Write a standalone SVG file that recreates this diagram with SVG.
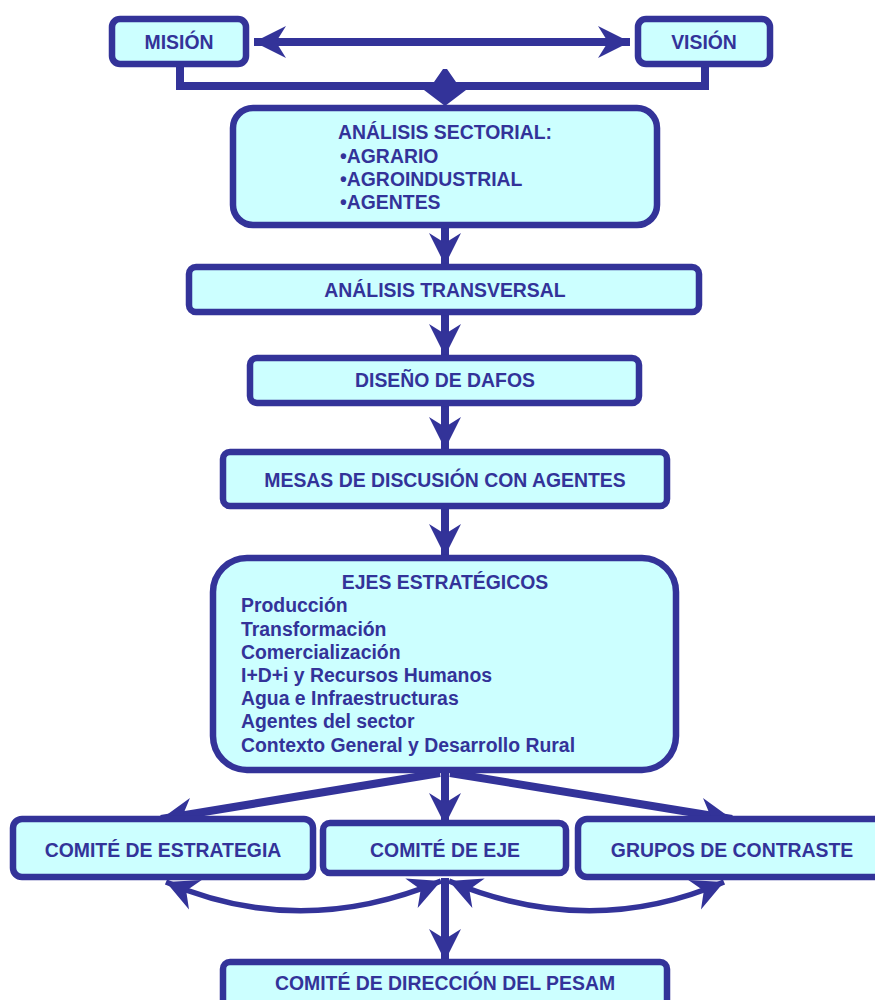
<svg xmlns="http://www.w3.org/2000/svg" width="875" height="1000" viewBox="0 0 875 1000">
<style>
.box{fill:#CCFFFF;stroke:#333399;stroke-width:6.5}
.t{font-family:Arial,"Liberation Sans",sans-serif;font-weight:bold;font-size:19.4px;fill:#333399}
.c{text-anchor:middle}
.ln{fill:none;stroke:#333399;stroke-width:8}
.thin{fill:none;stroke:#333399;stroke-width:5.5}
</style>
<defs>
<marker id="ah" markerUnits="userSpaceOnUse" markerWidth="44" markerHeight="44" viewBox="-34 -22 44 44" refX="0" refY="0" orient="auto-start-reverse">
<path d="M0,0 L-32,-16 L-22,0 L-32,16 Z" fill="#333399"/>
</marker>
</defs>
<rect width="875" height="1000" fill="#fff"/>
<g id="connectors">
<line class="ln" stroke-width="7" x1="254" y1="42" x2="630" y2="42" marker-start="url(#ah)" marker-end="url(#ah)"/>
<polyline class="ln" points="180,65 180,86 705,86 705,65"/>
<polygon points="443,69 447,69 456,82 466,90 445,106 424,90 434,82" fill="#333399"/>
<line class="ln" x1="445" y1="226" x2="445" y2="265" marker-end="url(#ah)"/>
<line class="ln" x1="445" y1="314" x2="445" y2="356" marker-end="url(#ah)"/>
<line class="ln" x1="445" y1="405" x2="445" y2="449" marker-end="url(#ah)"/>
<line class="ln" x1="445" y1="508" x2="445" y2="556" marker-end="url(#ah)"/>
<line class="ln" x1="445" y1="772" x2="445" y2="825" marker-end="url(#ah)"/>
<line class="ln" stroke-width="7" x1="440" y1="773" x2="161" y2="819" marker-end="url(#ah)"/>
<line class="ln" stroke-width="7" x1="450" y1="773" x2="732" y2="819" marker-end="url(#ah)"/>
<line class="ln" x1="445" y1="878" x2="445" y2="961" marker-end="url(#ah)"/>
<path class="thin" d="M166,882 Q300,940 441,881" marker-start="url(#ah)" marker-end="url(#ah)"/>
<path class="thin" d="M449,881 Q590,940 724,882" marker-start="url(#ah)" marker-end="url(#ah)"/>
</g>
<g id="mision"><rect class="box" x="112" y="19" width="134" height="45" rx="8"/><text class="t c" x="179" y="49">MISIÓN</text></g>
<g id="vision"><rect class="box" x="638" y="19" width="132" height="45" rx="8"/><text class="t c" x="704" y="49">VISIÓN</text></g>
<g id="sectorial"><rect class="box" x="233" y="108" width="424" height="117" rx="20"/>
<text class="t c" x="445" y="139">ANÁLISIS SECTORIAL:</text>
<text class="t" x="340" y="163">•AGRARIO</text>
<text class="t" x="340" y="186">•AGROINDUSTRIAL</text>
<text class="t" x="340" y="209">•AGENTES</text></g>
<g id="transversal"><rect class="box" x="189" y="267" width="510" height="45" rx="7"/><text class="t c" x="445" y="297">ANÁLISIS TRANSVERSAL</text></g>
<g id="dafos"><rect class="box" x="250" y="358" width="389" height="45" rx="7"/><text class="t c" x="445" y="387">DISEÑO DE DAFOS</text></g>
<g id="mesas"><rect class="box" x="223" y="452" width="444" height="54" rx="7"/><text class="t c" x="445" y="487">MESAS DE DISCUSIÓN CON AGENTES</text></g>
<g id="ejes"><rect class="box" x="213" y="558" width="463" height="212" rx="34"/>
<text class="t c" x="445" y="589">EJES ESTRATÉGICOS</text>
<text class="t" x="241" y="612">Producción</text>
<text class="t" x="241" y="636">Transformación</text>
<text class="t" x="241" y="659">Comercialización</text>
<text class="t" x="241" y="682">I+D+i y Recursos Humanos</text>
<text class="t" x="241" y="705">Agua e Infraestructuras</text>
<text class="t" x="241" y="728">Agentes del sector</text>
<text class="t" x="241" y="752">Contexto General y Desarrollo Rural</text></g>
<g id="estrategia"><rect class="box" x="13" y="819" width="300" height="58" rx="9"/><text class="t c" x="163" y="857">COMITÉ DE ESTRATEGIA</text></g>
<g id="eje"><rect class="box" x="323" y="823" width="243" height="50" rx="7"/><text class="t c" x="445" y="857">COMITÉ DE EJE</text></g>
<g id="contraste"><rect class="box" x="578" y="819" width="305" height="58" rx="9"/><text class="t c" x="732" y="857">GRUPOS DE CONTRASTE</text></g>
<g id="direccion"><rect class="box" x="223" y="962" width="444" height="50" rx="7"/><text class="t c" x="445" y="990">COMITÉ DE DIRECCIÓN DEL PESAM</text></g>
</svg>
